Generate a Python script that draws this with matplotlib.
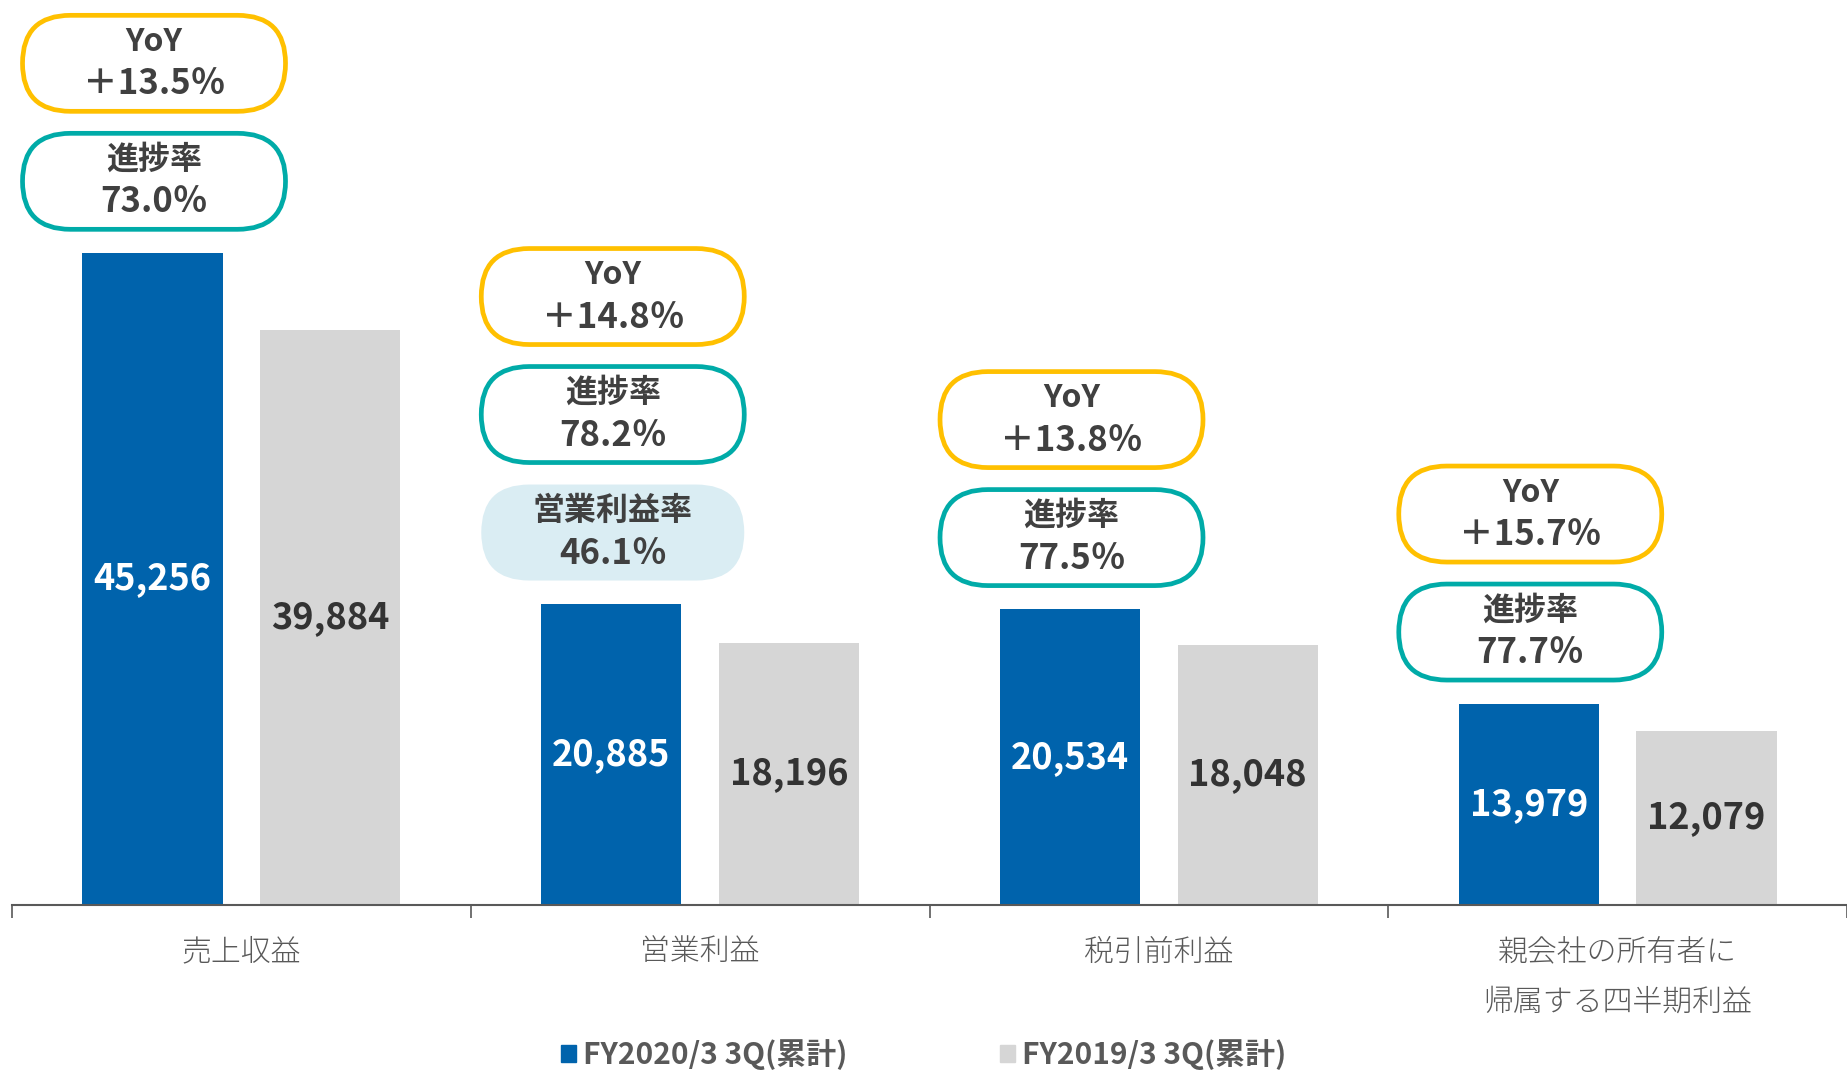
import numpy as np
import matplotlib.pyplot as plt
from matplotlib.patches import FancyBboxPatch, Patch
from matplotlib.transforms import IdentityTransform

plt.rcParams['font.family'] = ['Noto Sans CJK JP', 'DejaVu Sans']

categories = ['売上収益', '営業利益', '税引前利益', '親会社の所有者に\n帰属する四半期利益']
fy2020 = [45256, 20885, 20534, 13979]
fy2019 = [39884, 18196, 18048, 12079]
yoy = ['＋13.5％', '＋14.8％', '＋13.8％', '＋15.7％']
progress = ['73.0％', '78.2％', '77.5％', '77.7％']
op_margin = ['', '46.1％', '', '']
series_names = ['FY2020/3 3Q(累計)', 'FY2019/3 3Q(累計)']

blue = '#0063AC'
grey = '#D6D6D6'
yellow = '#FFC000'
teal = '#00ABA8'
pale = '#DAEDF3'
dark = '#404040'
axis_grey = '#595959'

W, H = 1847, 1070
fig = plt.figure(figsize=(W / 100, H / 100), dpi=100)
left = 12
ax = fig.add_axes([left / W, 165 / H, (W - left) / W, (H - 165) / H])

x = np.arange(len(categories))
off, bw = 0.1937, 0.306
b1 = ax.bar(x - off, fy2020, bw, color=blue)
b2 = ax.bar(x + off, fy2019, bw, color=grey)
ax.set_xlim(-0.5, -0.5 + (W - left) / 462.1)
ax.set_ylim(0, 62800)

ax.bar_label(b1, labels=[f'{v:,}' for v in fy2020], label_type='center',
             color='white', fontsize=26, fontweight='bold')
ax.bar_label(b2, labels=[f'{v:,}' for v in fy2019], label_type='center',
             color='#333333', fontsize=26, fontweight='bold')

for s in ['top', 'right', 'left']:
    ax.spines[s].set_visible(False)
ax.spines['bottom'].set_color(axis_grey)
ax.spines['bottom'].set_linewidth(1.5)
ax.set_yticks([])

# category boundaries as ticks, names centred
ax.set_xticks(np.arange(-0.5, 4, 1))
ax.set_xticklabels([])
ax.set_xticks(x, minor=True)
ax.set_xticklabels(categories, minor=True, fontsize=21.5, color=axis_grey,
                   linespacing=1.85, fontweight='light')
ax.tick_params(which='major', length=9, width=1.2, color=axis_grey)
ax.tick_params(which='minor', length=0, pad=23)

# pill badges stacked above the blue bars (pixel units)
bx_w, bx_h, gap = 268, 101, 17
for i in range(len(categories)):
    cx, top = ax.transData.transform((x[i] - off, fy2020[i]))
    cx += 1.5
    items = []
    if op_margin[i]:
        items.append(('営業利益率', op_margin[i], 'none', pale))
    items.append(('進捗率', progress[i], teal, 'white'))
    items.append(('YoY', yoy[i], yellow, 'white'))
    y0 = top + 21
    for head, val, ec, fc in items:
        cy = y0 + bx_h / 2
        lw = 0 if ec == 'none' else 3.4
        w, h = bx_w - 5, bx_h - 5
        box = FancyBboxPatch((cx - w / 2, cy - h / 2), w, h,
                             boxstyle=f'round,pad=0,rounding_size={h / 2}',
                             transform=IdentityTransform(), fc=fc, ec=ec,
                             lw=lw, clip_on=False)
        fig.patches.append(box)
        fig.text(cx, cy + 21.5, head, transform=IdentityTransform(),
                 ha='center', va='center', fontsize=23, fontweight='bold', color=dark)
        fig.text(cx, cy - 20.5, val, transform=IdentityTransform(),
                 ha='center', va='center', fontsize=25, fontweight='bold', color=dark)
        y0 += bx_h + gap

handles = [Patch(color=blue), Patch(color=grey)]
fig.legend(handles, series_names, loc='center', bbox_to_anchor=(0.5, 15.5 / H),
           ncol=2, frameon=False, handlelength=0.5, handleheight=0.5,
           handletextpad=0.25, columnspacing=5.1, labelcolor=axis_grey,
           prop={'size': 21.5, 'weight': 'bold'})

plt.savefig('out.png', dpi=100)
